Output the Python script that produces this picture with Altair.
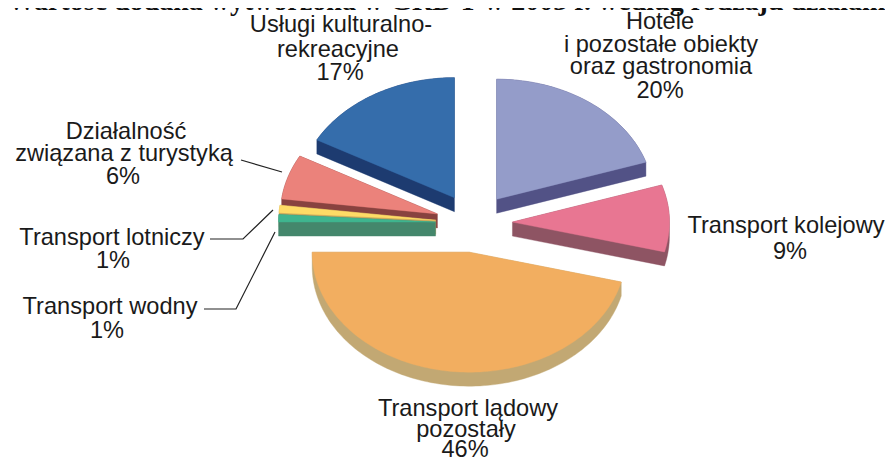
import math
import altair as alt
import pandas as pd

# ---- values ----
names = ["Hotele i pozostałe obiekty oraz gastronomia", "Transport kolejowy",
         "Transport lądowy pozostały", "Transport wodny", "Transport lotniczy",
         "Działalność związana z turystyką", "Usługi kulturalno-rekreacyjne"]
shares = [20, 9, 46, 1, 1, 6, 17]
top_colors = ["#949CC9", "#E87692", "#F2AE60", "#3FB58F", "#FEDB66", "#EB827B", "#356DAB"]
side_colors = ["#525286", "#8E5463", "#C2A873", "#44876C", "#C9A75B", "#88423F", "#1D3B70"]
draw_order = [6, 0, 1, 5, 4, 3, 2]

label_text = ["Usługi kulturalno-", "rekreacyjne", "17%",
              "Hotele", "i pozostałe obiekty", "oraz gastronomia", "20%",
              "Działalność", "związana z turystyką", "6%",
              "Transport kolejowy", "9%",
              "Transport lotniczy", "1%",
              "Transport wodny", "1%",
              "Transport lądowy", "pozostały", "46%"]
label_x = [341, 338, 340, 660, 661, 661, 660, 126, 124, 123, 786, 790, 112, 113, 110, 107, 468, 466, 465]
label_y = [25, 50, 73, 22, 45, 67, 91, 132, 154, 177, 226, 252, 238, 261, 307, 331, 409, 430, 450]

leader_id = [0, 0, 1, 1, 1, 2, 2, 2]
leader_x = [241, 282, 210, 243, 273, 204, 236, 275]
leader_y = [160, 172, 239, 239, 210, 309, 309, 232]

title_text = "Wartość dodana wytworzona w GRD T w 2003 r. według rodzaju działalności"

# ---- layout ----
W, H = 877, 450
OX, OY = 8, 8
CX, CY = 474, 223       # page position of the pie centre
RX, RY = 157, 120       # ellipse radii on the page
EXPLODE = 0.245
DEPTH = 14 / RY

x_scale = alt.Scale(domain=[(0 - (CX - OX)) / RX, (W - (CX - OX)) / RX], nice=False, zero=False)
y_scale = alt.Scale(domain=[-(H - (CY - OY)) / RY, (CY - OY) / RY], nice=False, zero=False)


def hull(pts):
    pts = sorted(set(pts))
    def cross(o, a, b):
        return (a[0] - o[0]) * (b[1] - o[1]) - (a[1] - o[1]) * (b[0] - o[0])
    lower, upper = [], []
    for p in pts:
        while len(lower) >= 2 and cross(lower[-2], lower[-1], p) <= 0:
            lower.pop()
        lower.append(p)
    for p in reversed(pts):
        while len(upper) >= 2 and cross(upper[-2], upper[-1], p) <= 0:
            upper.pop()
        upper.append(p)
    return lower[:-1] + upper[:-1]


def sector(start, end):
    """Slice outline on the unit circle, angles clockwise from twelve o'clock."""
    mid = math.radians((start + end) / 2)
    ax, ay = EXPLODE * math.sin(mid), EXPLODE * math.cos(mid)
    n = max(2, int((end - start) / 1.5) + 1)
    pts = [(ax, ay)]
    for k in range(n + 1):
        t = math.radians(start + (end - start) * k / n)
        pts.append((ax + math.sin(t), ay + math.cos(t)))
    return pts


def poly_layer(pts, color):
    df = pd.DataFrame({"u": [p[0] for p in pts], "v": [p[1] for p in pts], "i": range(len(pts))})
    return alt.Chart(df).mark_line(fill=color, stroke=color, strokeWidth=0.4, interpolate="linear-closed").encode(
        x=alt.X("u:Q", scale=x_scale, axis=None),
        y=alt.Y("v:Q", scale=y_scale, axis=None),
        order=alt.Order("i:Q"),
    )


starts = []
acc = 0.0
for s in shares:
    starts.append(acc)
    acc += s * 3.6

layers = []
for idx in draw_order:
    a0 = starts[idx]
    a1 = a0 + shares[idx] * 3.6
    outline = sector(a0, a1)
    extruded = hull(outline + [(p[0], p[1] - DEPTH) for p in outline])
    layers.append(poly_layer(extruded, side_colors[idx]))
    layers.append(poly_layer(outline, top_colors[idx]))

leaders = pd.DataFrame({"id": leader_id,
                        "px": [v - OX for v in leader_x],
                        "py": [v - OY for v in leader_y],
                        "i": range(len(leader_id))})
leader_layer = alt.Chart(leaders).mark_line(color="#222222", strokeWidth=1.2).encode(
    x=alt.X("px:Q", scale=None, axis=None),
    y=alt.Y("py:Q", scale=None, axis=None),
    detail="id:N",
    order=alt.Order("i:Q"),
)

labels = pd.DataFrame({"t": label_text,
                       "px": [v - OX for v in label_x],
                       "py": [v - OY for v in label_y]})
label_layer = alt.Chart(labels).mark_text(font="Liberation Sans", fontSize=23.6, color="#1a1a1a",
                                          align="center", baseline="middle").encode(
    x=alt.X("px:Q", scale=None, axis=None),
    y=alt.Y("py:Q", scale=None, axis=None),
    text="t:N",
)

title_layer = alt.Chart(pd.DataFrame({"t": [title_text], "px": [461], "py": [2]})).mark_text(
    font="Liberation Serif", fontSize=28, fontWeight="bold", color="#111111",
    align="center", baseline="alphabetic").encode(
    x=alt.X("px:Q", scale=None, axis=None),
    y=alt.Y("py:Q", scale=None, axis=None),
    text="t:N",
)

chart = alt.layer(*layers, leader_layer, label_layer, title_layer).properties(
    width=W, height=H, padding=0, background="white",
    autosize=alt.AutoSizeParams(type="none"),
).configure_view(stroke=None)

chart.save("out.html", embed_options={"renderer": "svg", "actions": False})
